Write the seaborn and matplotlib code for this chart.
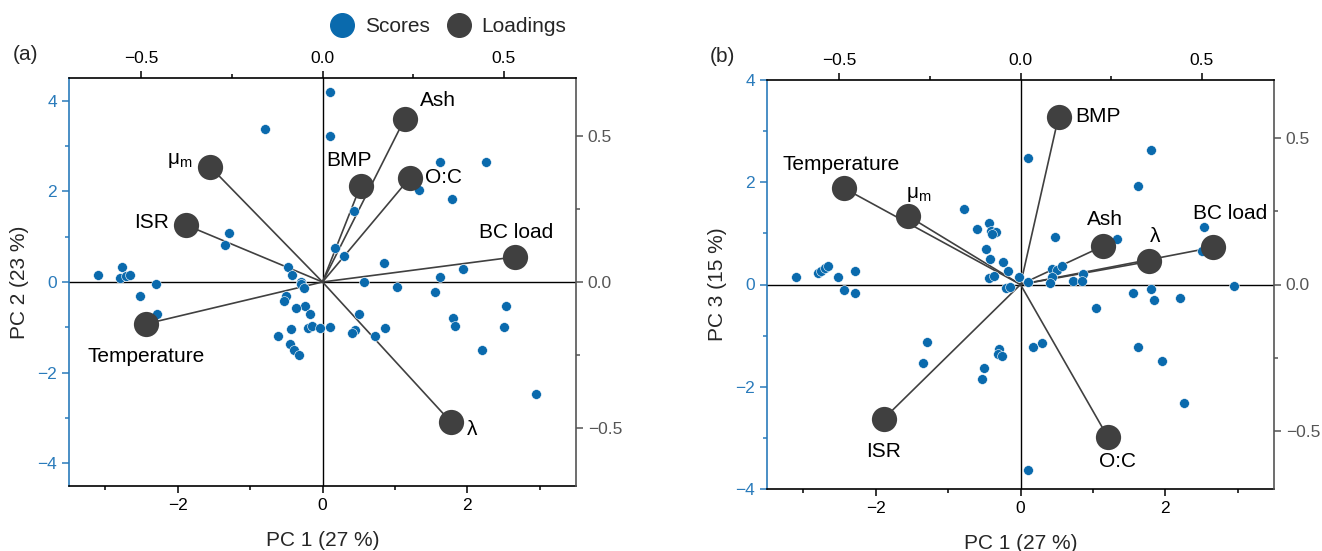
import matplotlib
matplotlib.use("Agg")
import matplotlib.pyplot as plt
import seaborn as sns
import pandas as pd
from matplotlib.lines import Line2D
from matplotlib.ticker import MultipleLocator, FixedLocator

# ---------------- data ----------------
# Panel (a): scores PC1 vs PC2
a_pc1 = [-0.79, 0.10, 0.10, -1.29, -1.34,
         -3.10, -2.77, -2.80, -2.71, -2.66, -2.30, -2.52, -2.28,
         0.17, 0.30, 0.85, -0.48, -0.42, -0.30, -0.29, -0.26, 0.57, 1.03,
         -0.51, -0.53, -0.24, -0.36, -0.17, 0.51, -0.43, -0.20, -0.14, -0.04,
         0.10, 0.45, 0.41, 0.86, 0.73, -0.61, -0.45, -0.40, -0.33,
         1.94, 1.62, 1.55, 2.53, 1.80, 1.83, 2.51, 2.20, 2.95,
         1.62, 2.26, 1.33, 1.79, 0.43]
a_pc2 = [3.37, 4.19, 3.22, 1.08, 0.81,
         0.15, 0.33, 0.09, 0.13, 0.15, -0.05, -0.30, -0.71,
         0.76, 0.57, 0.43, 0.33, 0.15, -0.01, -0.05, -0.14, 0.01, -0.10,
         -0.30, -0.43, -0.52, -0.58, -0.71, -0.70, -1.04, -1.01, -0.98, -1.01,
         -1.00, -1.06, -1.13, -1.02, -1.20, -1.20, -1.36, -1.49, -1.61,
         0.29, 0.10, -0.23, -0.54, -0.80, -0.98, -0.99, -1.49, -2.46,
         2.64, 2.64, 2.02, 1.84, 1.56]

# Panel (b): scores PC1 vs PC3
b_pc1 = [-0.78, -0.44, -0.60, -0.41, -0.34, -0.39, 0.48, -0.48, -0.42, -0.24,
         -0.17, -0.02, -0.43, -0.36, -0.20, -0.14, 0.10, 0.43, 0.50, 0.57,
         0.44, 0.41, 0.73, 0.86, 0.85, 1.04, 0.10, 1.80, 1.62, 1.33,
         2.54, 2.51, 1.55, 1.80, 1.84, 2.20, 2.95, 0.17, 0.30, -0.29,
         -0.31, -0.26, 1.62, 1.95, 2.26, 0.10,
         -3.10, -2.80, -2.75, -2.70, -2.66, -2.52, -2.29, -2.44, -2.28,
         -1.29, -1.35, -0.51, -0.53]
b_pc3 = [1.47, 1.21, 1.08, 1.04, 1.02, 0.98, 0.93, 0.69, 0.50, 0.44,
         0.27, 0.15, 0.12, 0.16, -0.06, -0.04, 0.05, 0.31, 0.29, 0.36,
         0.15, 0.03, 0.06, 0.21, 0.06, -0.46, 2.47, 2.64, 1.93, 0.89,
         1.13, 0.65, -0.16, -0.09, -0.31, -0.27, -0.02, -1.22, -1.15, -1.26,
         -1.35, -1.40, -1.22, -1.49, -2.32, -3.62,
         0.15, 0.23, 0.27, 0.33, 0.37, 0.15, 0.27, -0.10, -0.16,
         -1.12, -1.54, -1.63, -1.84]

# Loadings
load_names = ["Temperature", "ISR", "μ$_{m}$", "BMP", "Ash", "O:C", "BC load", "λ"]
load_pc1 = [-0.488, -0.378, -0.310, 0.105, 0.227, 0.241, 0.531, 0.355]
load_pc2 = [-0.144, 0.196, 0.395, 0.330, 0.560, 0.357, 0.086, -0.481]
load_pc3 = [0.330, -0.460, 0.234, 0.574, 0.131, -0.522, 0.127, 0.079]

x_label = "PC 1 (27 %)"
y_labels = ["PC 2 (23 %)", "PC 3 (15 %)"]
panel_tags = ["(a)", "(b)"]

# ---------------- style ----------------
sns.set_style("ticks")
plt.rcParams["font.family"] = ["Liberation Sans", "DejaVu Sans"]
plt.rcParams["mathtext.default"] = "regular"

SCORE_C = "#0a6aad"
AXIS_BLUE = "#2a7bbb"
LOAD_C = "#404040"
RIGHT_C = "#555555"
TXT = 15

# label offsets (pixels) and alignment per panel
label_style_a = {
    "Temperature": (0, -33, "center"), "ISR": (-17, 2, "right"),
    "μ$_{m}$": (-18, 6, "right"), "BMP": (-12, 25, "center"),
    "Ash": (15, 18, "left"), "O:C": (15, 0, "left"),
    "BC load": (1, 24, "center"), "λ": (16, -7, "left"),
}
label_style_b = {
    "Temperature": (-3, 24, "center"), "ISR": (0, -33, "center"),
    "μ$_{m}$": (10, 22, "center"), "BMP": (17, 0, "left"),
    "Ash": (2, 27, "center"), "O:C": (10, -25, "center"),
    "BC load": (17, 34, "center"), "λ": (6, 25, "center"),
}

W, H = 1322, 551
fig = plt.figure(figsize=(W / 100, H / 100), dpi=100)


def fmt1(v, p):
    return f"{v:.1f}".replace("-", "\u2212")


def make_panel(rect, sx, sy, ly, ylim_s, ylab, tag, lstyle, tagpos):
    ax = fig.add_axes(rect)
    axl = fig.add_axes(rect, facecolor="none")

    ax.set_xlim(-3.5, 3.5)
    ax.set_ylim(*ylim_s)
    axl.set_xlim(-0.7, 0.7)
    axl.set_ylim(-0.7, 0.7)

    # zero lines
    ax.axhline(0, color="black", lw=1.0, zorder=1)
    ax.axvline(0, color="black", lw=1.0, zorder=1)

    # loading vectors (drawn beneath scores, in loading coordinates)
    for x, y in zip(load_pc1, ly):
        ax.plot([0, x], [0, y], color=LOAD_C, lw=1.2, zorder=2,
                transform=axl.transData)

    df_s = pd.DataFrame({"x": sx, "y": sy})
    sns.scatterplot(data=df_s, x="x", y="y", ax=ax, color=SCORE_C, s=50,
                    edgecolor="white", linewidth=0.4, zorder=3, legend=False)

    df_l = pd.DataFrame({"x": load_pc1, "y": ly, "name": load_names})
    sns.scatterplot(data=df_l, x="x", y="y", ax=axl, color=LOAD_C, s=330,
                    edgecolor=LOAD_C, linewidth=0, zorder=4, legend=False)
    for name, x, y in zip(load_names, load_pc1, ly):
        dx, dy, ha = lstyle[name]
        axl.annotate(name, (x, y), xytext=(dx, dy), textcoords="offset pixels",
                     ha=ha, va="center", fontsize=TXT, color="black")

    # scores axes: left (blue) + bottom
    ax.spines["top"].set_visible(False)
    ax.spines["right"].set_visible(False)
    ax.spines["left"].set_color(AXIS_BLUE)
    ax.spines["bottom"].set_color("black")
    for s in ax.spines.values():
        s.set_linewidth(1.2)
    ax.xaxis.set_major_locator(FixedLocator([-2, 0, 2]))
    ax.xaxis.set_minor_locator(FixedLocator([-3, -1, 1, 3]))
    ax.yaxis.set_major_locator(MultipleLocator(2))
    ax.yaxis.set_minor_locator(MultipleLocator(1))
    ax.tick_params(axis="x", which="major", length=5, width=1.1, colors="black",
                   labelsize=12.5)
    ax.tick_params(axis="x", which="minor", length=3, width=1.1, colors="black")
    ax.tick_params(axis="y", which="major", length=5, width=1.1, colors=AXIS_BLUE,
                   labelsize=12.5)
    ax.tick_params(axis="y", which="minor", length=3, width=1.1, colors=AXIS_BLUE)
    ax.set_xlabel(x_label, fontsize=TXT, labelpad=13)
    ax.set_ylabel(ylab, fontsize=TXT, labelpad=6)

    # loadings axes: top + right
    axl.spines["left"].set_visible(False)
    axl.spines["bottom"].set_visible(False)
    axl.spines["top"].set_color("black")
    axl.spines["right"].set_color(RIGHT_C)
    for s in axl.spines.values():
        s.set_linewidth(1.2)
    axl.xaxis.tick_top()
    axl.yaxis.tick_right()
    axl.xaxis.set_major_locator(FixedLocator([-0.5, 0.0, 0.5]))
    axl.xaxis.set_minor_locator(FixedLocator([-0.25, 0.25]))
    axl.yaxis.set_major_locator(FixedLocator([-0.5, 0.0, 0.5]))
    axl.yaxis.set_minor_locator(FixedLocator([-0.25, 0.25]))
    axl.xaxis.set_major_formatter(plt.FuncFormatter(fmt1))
    axl.yaxis.set_major_formatter(plt.FuncFormatter(fmt1))
    axl.tick_params(axis="x", which="major", length=5, width=1.1, colors="black",
                    labelsize=12.5, top=True, bottom=False, labeltop=True, labelbottom=False)
    axl.tick_params(axis="x", which="minor", length=3, width=1.1, colors="black",
                    top=True, bottom=False)
    axl.tick_params(axis="y", which="major", length=5, width=1.1, colors=RIGHT_C,
                    labelsize=12.5, right=True, left=False, labelright=True, labelleft=False)
    axl.tick_params(axis="y", which="minor", length=3, width=1.1, colors=RIGHT_C,
                    right=True, left=False)
    axl.set_xlabel("")
    axl.set_ylabel("")

    fig.text(tagpos[0], tagpos[1], tag, fontsize=TXT, ha="center", va="center")
    return ax, axl


make_panel([69 / W, 1 - 486 / H, 507 / W, 408 / H], a_pc1, a_pc2, load_pc2,
           (-4.5, 4.5), y_labels[0], panel_tags[0], label_style_a, (25 / W, 1 - 55 / H))
make_panel([767 / W, 1 - 489 / H, 507 / W, 409 / H], b_pc1, b_pc3, load_pc3,
           (-4, 4), y_labels[1], panel_tags[1], label_style_b, (722 / W, 1 - 57 / H))

handles = [
    Line2D([], [], ls="none", marker="o", markersize=17, color=SCORE_C, label="Scores"),
    Line2D([], [], ls="none", marker="o", markersize=17, color=LOAD_C, label="Loadings"),
]
fig.legend(handles=handles, loc="center", bbox_to_anchor=(449 / W, 1 - 27 / H),
           ncol=2, frameon=False, fontsize=15, handlelength=1.0,
           handletextpad=0.6, columnspacing=0.9)

fig.savefig("out.png", dpi=100)
